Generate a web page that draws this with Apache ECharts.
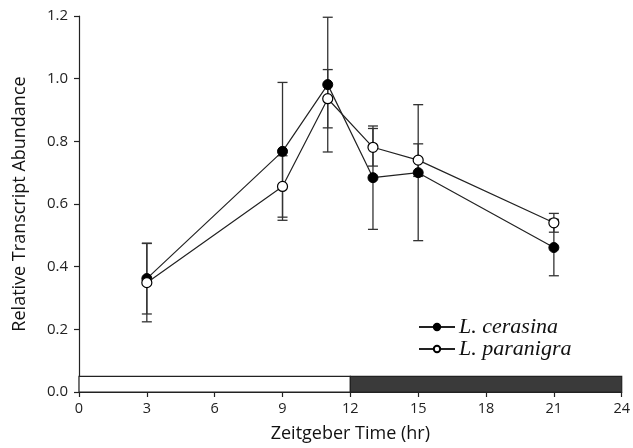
<!DOCTYPE html>
<html>
<head>
<meta charset="utf-8">
<script src="https://cdn.jsdelivr.net/npm/echarts@6/dist/echarts.min.js"></script>
<style>
  html, body { margin: 0; padding: 0; background: #fff; }
  #chart { width: 633px; height: 448px; }
</style>
</head>
<body>
<div id="chart"></div>
<script>
// sampling times (zeitgeber hours)
const hours = [3, 9, 11, 13, 15, 21];
// L. cerasina mean and error
const cerasina = [0.362, 0.768, 0.981, 0.684, 0.700, 0.461];
const cerasinaErr = [0.113, 0.220, 0.215, 0.165, 0.217, 0.090];
// L. paranigra mean and error
const paranigra = [0.349, 0.656, 0.936, 0.781, 0.740, 0.540];
const paranigraErr = [0.125, 0.098, 0.093, 0.060, 0.052, 0.030];
// light / dark phases
const phaseStart = [0, 12];
const phaseEnd = [12, 24];
const phaseTop = 0.05;
// ticks
const xTicks = [0, 3, 6, 9, 12, 15, 18, 21, 24];
const yTicks = [0, 0.2, 0.4, 0.6, 0.8, 1.0, 1.2];

const ink = '#222';
const phaseFill = ['#ffffff', '#3a3a3a'];

function points (ys) {
  return hours.map((h, i) => [h, ys[i]]);
}
function errRows (ys, es) {
  return hours.map((h, i) => [h, ys[i] - es[i], ys[i] + es[i]]);
}

function renderErr (params, api) {
  const x = api.value(0);
  const lo = api.coord([x, api.value(1)]);
  const hi = api.coord([x, api.value(2)]);
  const w = 5;
  const style = { stroke: '#333', lineWidth: 1.3 };
  return {
    type: 'group',
    children: [
      { type: 'line', shape: { x1: lo[0], y1: lo[1], x2: hi[0], y2: hi[1] }, style },
      { type: 'line', shape: { x1: lo[0] - w, y1: lo[1], x2: lo[0] + w, y2: lo[1] }, style },
      { type: 'line', shape: { x1: hi[0] - w, y1: hi[1], x2: hi[0] + w, y2: hi[1] }, style }
    ]
  };
}

function renderPhase (params, api) {
  const a = api.coord([api.value(0), phaseTop]);
  const b = api.coord([api.value(1), 0]);
  return {
    type: 'rect',
    shape: { x: a[0], y: a[1], width: b[0] - a[0], height: b[1] - a[1] },
    style: { fill: phaseFill[params.dataIndex], stroke: ink, lineWidth: 1.2 }
  };
}

const chart = echarts.init(document.getElementById('chart'));
chart.setOption({
  animation: false,
  grid: { left: 79, right: 9, top: 16, bottom: 55 },
  legend: {
    data: ['L. cerasina', 'L. paranigra'],
    orient: 'vertical',
    left: 413,
    top: 311,
    itemWidth: 36,
    itemHeight: 8,
    itemGap: 0,
    textStyle: {
      fontFamily: 'Liberation Serif',
      fontStyle: 'italic',
      fontSize: 22,
      lineHeight: 20,
      color: '#111',
      padding: [0, 0, 0, -1]
    }
  },
  xAxis: {
    type: 'value',
    min: xTicks[0],
    max: xTicks[xTicks.length - 1],
    interval: 3,
    name: 'Zeitgeber Time (hr)',
    nameLocation: 'middle',
    nameGap: 33,
    nameTextStyle: { fontFamily: 'Open Sans', fontSize: 18, color: '#111' },
    axisLine: { lineStyle: { color: ink, width: 1.2 } },
    axisTick: { length: 5, lineStyle: { color: ink, width: 1.2 } },
    axisLabel: { fontFamily: 'Open Sans', fontSize: 14.5, color: '#222', margin: 9 },
    splitLine: { show: false }
  },
  yAxis: {
    type: 'value',
    min: yTicks[0],
    max: yTicks[yTicks.length - 1],
    interval: 0.2,
    name: 'Relative Transcript Abundance',
    nameLocation: 'middle',
    nameGap: 50,
    nameTextStyle: { fontFamily: 'Open Sans', fontSize: 18, color: '#111' },
    axisLine: { show: true, lineStyle: { color: ink, width: 1.2 } },
    axisTick: { show: true, length: 5, lineStyle: { color: ink, width: 1.2 } },
    axisLabel: {
      fontFamily: 'Open Sans', fontSize: 15, color: '#222', margin: 11,
      formatter: v => v.toFixed(1)
    },
    splitLine: { show: false }
  },
  series: [
    {
      name: 'phase',
      type: 'custom',
      renderItem: renderPhase,
      data: phaseStart.map((s, i) => [s, phaseEnd[i]]),
      z: 1,
      silent: true
    },
    {
      name: 'cerasina err',
      type: 'custom',
      renderItem: renderErr,
      data: errRows(cerasina, cerasinaErr),
      z: 2
    },
    {
      name: 'paranigra err',
      type: 'custom',
      renderItem: renderErr,
      data: errRows(paranigra, paranigraErr),
      z: 2
    },
    {
      name: 'L. cerasina',
      type: 'line',
      data: points(cerasina),
      symbol: 'circle',
      symbolSize: 10,
      lineStyle: { color: ink, width: 1.2 },
      itemStyle: { color: '#000', borderColor: '#000', borderWidth: 1 },
      z: 3
    },
    {
      name: 'L. paranigra',
      type: 'line',
      data: points(paranigra),
      symbol: 'circle',
      symbolSize: 10,
      lineStyle: { color: ink, width: 1.2 },
      itemStyle: { color: '#fff', borderColor: '#000', borderWidth: 1.2 },
      z: 4
    }
  ]
});
</script>
</body>
</html>
